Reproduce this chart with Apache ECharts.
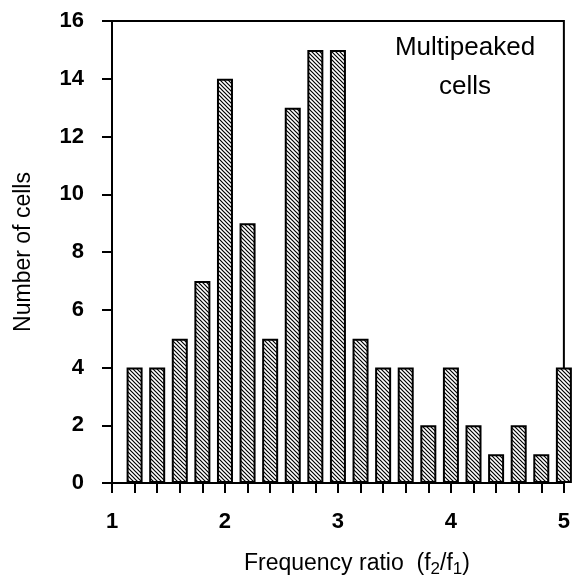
<!DOCTYPE html>
<html><head><meta charset="utf-8">
<script src="https://cdn.jsdelivr.net/npm/echarts@6/dist/echarts.min.js"></script>
<style>html,body{margin:0;padding:0;background:#fff}#c{width:573px;height:583px}</style>
</head><body><div id="c"></div>
<script>
const ratios = [1.2,1.4,1.6,1.8,2.0,2.2,2.4,2.6,2.8,3.0,3.2,3.4,3.6,3.8,4.0,4.2,4.4,4.6,4.8,5.0];
const counts = [4,4,5,7,14,9,5,13,15,15,5,4,4,2,4,2,1,2,1,4];
const yTicks = [0,2,4,6,8,10,12,14,16];
const xTicks = [1,2,3,4,5];

function hatch(){
  const c = document.createElement('canvas');
  c.width = 4; c.height = 4;
  const g = c.getContext('2d');
  g.fillStyle = '#fff'; g.fillRect(0,0,4,4);
  g.strokeStyle = '#000'; g.lineWidth = 1.2;
  g.beginPath();
  g.moveTo(-1,-1); g.lineTo(5,5);
  g.moveTo(-1,3); g.lineTo(1,5);
  g.moveTo(3,-1); g.lineTo(5,1);
  g.stroke();
  return c;
}

const font = '"Liberation Sans", Arial, sans-serif';
const chart = echarts.init(document.getElementById('c'), null, {renderer:'canvas'});
chart.setOption({
  animation:false,
  grid:{left:112,right:7,top:21,bottom:97,show:true,borderColor:'#000',borderWidth:2,backgroundColor:'transparent'},
  xAxis:{type:'value',min:xTicks[0],max:xTicks[xTicks.length-1],interval:1,
    axisLine:{lineStyle:{color:'#000',width:2}},
    axisTick:{length:10,lineStyle:{color:'#000',width:2}},
    minorTick:{show:true,splitNumber:5,length:10,lineStyle:{color:'#000',width:2}},
    splitLine:{show:false},
    axisLabel:{color:'#000',fontSize:22,fontFamily:font,fontWeight:'bold',margin:28},
    name:'Frequency ratio  (f{s|2}/f{s|1})',nameLocation:'middle',nameGap:66,
    nameTextStyle:{color:'#000',fontSize:23,fontFamily:font,padding:[0,0,0,38],rich:{s:{fontSize:17,fontFamily:font,color:'#000',padding:[12,0,0,0]}}}
  },
  yAxis:{type:'value',min:yTicks[0],max:yTicks[yTicks.length-1],interval:2,
    axisLine:{lineStyle:{color:'#000',width:2}},
    axisTick:{length:10,lineStyle:{color:'#000',width:2}},
    splitLine:{show:false},
    axisLabel:{color:'#000',fontSize:22,fontFamily:font,fontWeight:'bold',margin:28},
    name:'Number of cells',nameLocation:'middle',nameGap:77,
    nameTextStyle:{color:'#000',fontSize:23,fontFamily:font}
  },
  graphic:[{type:'text',x:465,y:28,style:{text:'Multipeaked\ncells',fill:'#000',font:'26px '+font,textAlign:'center',lineHeight:39}}],
  series:[{type:'bar',barWidth:16,clip:true,
    data:ratios.map((r,i)=>[r,counts[i]]),
    itemStyle:{color:{image:hatch(),repeat:'repeat'},borderColor:'#000',borderWidth:2}
  }]
});
</script></body></html>
